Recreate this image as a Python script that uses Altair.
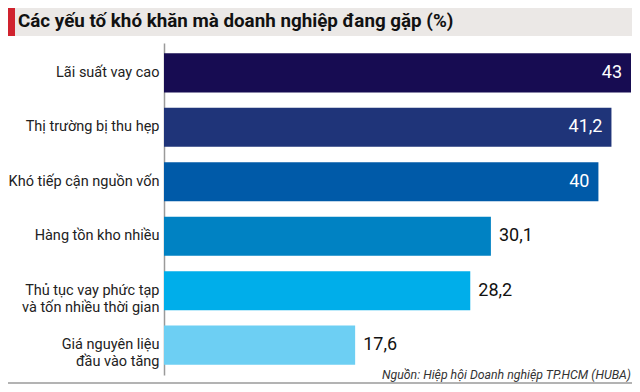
import altair as alt
import pandas as pd

# ---- data ----
categories = [
    "Lãi suất vay cao",
    "Thị trường bị thu hẹp",
    "Khó tiếp cận nguồn vốn",
    "Hàng tồn kho nhiều",
    "Thủ tục vay phức tạp\nvà tốn nhiều thời gian",
    "Giá nguyên liệu\nđầu vào tăng",
]
values = [43, 41.2, 40, 30.1, 28.2, 17.6]
value_labels = ["43", "41,2", "40", "30,1", "28,2", "17,6"]
bar_colors = ["#170c52", "#1f3479", "#005aa8", "#0082c3", "#00aeea", "#6dcff3"]
title_text = ["Các yếu tố khó khăn mà doanh nghiệp đang gặp (%)"]
source_text = ["Nguồn: Hiệp hội Doanh nghiệp TP.HCM (HUBA)"]

FONT = "Roboto"

df = pd.DataFrame({"cat": categories, "value": values, "label": value_labels})
df["inside"] = [True, True, True, False, False, False]

W, H = 467, 332

y_enc = alt.Y(
    "cat:N",
    sort=None,
    scale=alt.Scale(paddingInner=0.283, paddingOuter=0.19),
    axis=alt.Axis(
        title=None,
        ticks=False,
        domain=True,
        domainColor="#9a9a9a",
        domainWidth=1.5,
        labelPadding=5,
        labelFont=FONT,
        labelFontSize=14.5,
        labelColor="#222222",
        labelLimit=0,
        labelLineHeight=17,
        labelExpr="split(datum.label, '\\n')",
    ),
)
x_enc = alt.X("value:Q", scale=alt.Scale(domain=[0, 43], nice=False), axis=None)

base = alt.Chart(df)

bars = base.mark_bar().encode(
    y=y_enc,
    x=x_enc,
    color=alt.Color("cat:N", sort=None, scale=alt.Scale(domain=categories, range=bar_colors), legend=None),
)

lab_in = base.transform_filter("datum.inside").mark_text(
    align="right", baseline="middle", dx=-9, font=FONT, fontSize=18, color="white"
).encode(y=alt.Y("cat:N", sort=None), x="value:Q", text="label:N")

lab_out = base.transform_filter("!datum.inside").mark_text(
    align="left", baseline="middle", dx=8, font=FONT, fontSize=18, color="#111111"
).encode(y=alt.Y("cat:N", sort=None), x="value:Q", text="label:N")

deco = alt.Chart(pd.DataFrame({"t": title_text}))
band = deco.mark_rect(color="#ebe8e6").encode(
    x=alt.value(-156), x2=alt.value(468), y=alt.value(-35), y2=alt.value(-7)
)
red = deco.mark_rect(color="#d0232e").encode(
    x=alt.value(-156), x2=alt.value(-149), y=alt.value(-35), y2=alt.value(-7)
)
title = deco.mark_text(
    align="left", baseline="alphabetic", font=FONT, fontSize=18.8, fontWeight="bold", color="#111111"
).encode(x=alt.value(-146), y=alt.value(-16), text="t:N")

src = alt.Chart(pd.DataFrame({"t": source_text})).mark_text(
    align="right", baseline="alphabetic", font=FONT, fontSize=12.3, fontStyle="italic", color="#333333"
).encode(x=alt.value(467), y=alt.value(336), text="t:N")

bottom = deco.mark_rule(color="#b3b3b3", strokeWidth=2).encode(
    x=alt.value(-156), x2=alt.value(468), y=alt.value(340)
)

chart = (
    alt.layer(band, red, title, bars, lab_in, lab_out, src, bottom)
    .resolve_scale(y="shared", x="shared")
    .properties(
        width=W,
        height=H,
        autosize=alt.AutoSizeParams(type="none"),
        padding={"left": 156, "top": 35, "right": 1, "bottom": 9},
        background="white",
    )
    .configure_view(stroke=None)
)

chart.save("out.html", embed_options={"renderer": "svg", "actions": False})
